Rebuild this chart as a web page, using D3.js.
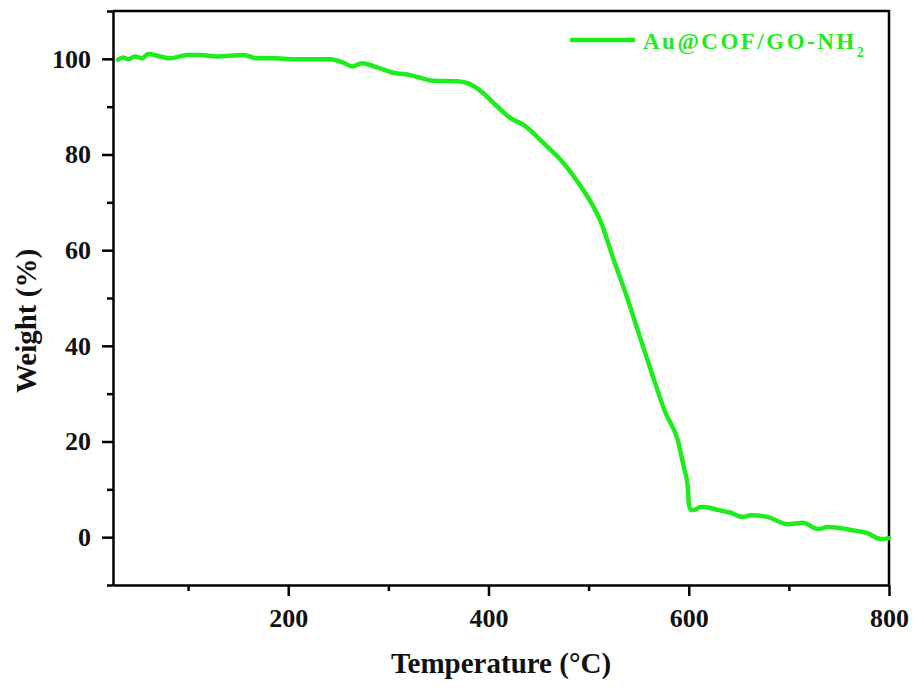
<!DOCTYPE html>
<html>
<head>
<meta charset="utf-8">
<script src="https://cdn.jsdelivr.net/npm/d3@7"></script>
<style>
  body { margin: 0; background: #fff; }
  svg text { font-family: "Liberation Serif", "Times New Roman", serif; font-weight: bold; }
</style>
</head>
<body>
<svg id="chart"></svg>
<script>
const width = 916;
const height = 689;
const margin = { top: 11, right: 27, bottom: 104, left: 113 };

// TGA curve
const temperature = [30, 35, 40, 47, 54, 60, 72, 82, 99, 112, 129, 155, 169, 189, 202, 222, 242, 255, 264, 274,
    289, 305, 322, 345, 369, 379, 392, 407, 422, 435, 455, 472, 489, 502, 512, 525, 537, 549, 562, 577,
    589, 595, 599, 600, 602, 605, 612, 615, 629, 642, 654, 662, 679, 699, 714, 729, 739, 762, 779, 792, 800];
const weight = [99.8, 100.3, 99.9, 100.5, 100.1, 101.0, 100.5, 100.1, 100.8, 100.8, 100.5, 100.8, 100.1, 100.1, 99.9, 99.9, 99.9, 99.2, 98.4, 99.1,
    98.2, 97.1, 96.6, 95.4, 95.3, 94.9, 93.3, 90.4, 87.6, 86.2, 82.4, 78.9, 74.3, 70.1, 66.0, 58.0, 51.0, 43.3, 35.0, 25.9,
    20.3, 14.7, 10.6, 7.1, 5.7, 5.7, 6.3, 6.3, 5.7, 5.1, 4.2, 4.6, 4.2, 2.7, 3.0, 1.7, 2.1, 1.5, 0.8, -0.4, -0.2];

const xMajor = [200, 400, 600, 800];
const xMinor = [100, 300, 500, 700];
const yMajor = [0, 20, 40, 60, 80, 100];
const yMinor = [-10, 10, 30, 50, 70, 90, 110];

const seriesName = "Au@COF/GO-NH";
const seriesSub = "2";
const green = "#1dec1d";

const svg = d3.select("#chart")
    .attr("width", width)
    .attr("height", height);

const x = d3.scaleLinear().domain([25, 800]).range([margin.left, width - margin.right]);
const y = d3.scaleLinear().domain([-10, 110]).range([height - margin.bottom, margin.top]);

// minor ticks first, then major axes on top
svg.append("g")
    .attr("transform", `translate(0,${height - margin.bottom})`)
    .call(d3.axisBottom(x).tickValues(xMinor).tickSize(6).tickFormat(""))
    .call(g => g.select(".domain").remove());
svg.append("g")
    .attr("transform", `translate(${margin.left},0)`)
    .call(d3.axisLeft(y).tickValues(yMinor).tickSize(6).tickFormat(""))
    .call(g => g.select(".domain").remove());

svg.append("g")
    .attr("transform", `translate(0,${height - margin.bottom})`)
    .call(d3.axisBottom(x).tickValues(xMajor).tickSize(11).tickPadding(13).tickSizeOuter(0));
svg.append("g")
    .attr("transform", `translate(${margin.left},0)`)
    .call(d3.axisLeft(y).tickValues(yMajor).tickSize(11).tickPadding(11).tickSizeOuter(0));

svg.selectAll(".tick line").attr("stroke", "#000").attr("stroke-width", 2.5);
svg.selectAll(".domain").attr("stroke", "#000").attr("stroke-width", 2.5);
svg.selectAll(".tick text").attr("fill", "#111").style("font-size", "26px");

// top and right border
svg.append("path")
    .attr("d", `M${margin.left},${margin.top}H${width - margin.right}V${height - margin.bottom}`)
    .attr("fill", "none")
    .attr("stroke", "#000")
    .attr("stroke-width", 2.5);

const line = d3.line()
    .x((d, i) => x(temperature[i]))
    .y(d => y(d))
    .curve(d3.curveMonotoneX);

svg.append("path")
    .datum(weight)
    .attr("d", line)
    .attr("fill", "none")
    .attr("stroke", green)
    .attr("stroke-width", 4.5)
    .attr("stroke-linejoin", "round")
    .attr("stroke-linecap", "round");

// axis titles
svg.append("text")
    .attr("x", (margin.left + width - margin.right) / 2)
    .attr("y", 673)
    .attr("text-anchor", "middle")
    .style("font-size", "29px")
    .attr("fill", "#111")
    .text("Temperature (°C)");

svg.append("text")
    .attr("transform", "translate(36,321) rotate(-90)")
    .attr("text-anchor", "middle")
    .style("font-size", "29px")
    .attr("fill", "#111")
    .text("Weight (%)");

// legend
svg.append("line")
    .attr("x1", 570).attr("x2", 635)
    .attr("y1", 40).attr("y2", 40)
    .attr("stroke", green)
    .attr("stroke-width", 4.5);

const legendText = svg.append("text")
    .attr("x", 643)
    .attr("y", 49)
    .attr("fill", green)
    .style("font-size", "23px")
    .style("letter-spacing", "2.5px")
    .text(seriesName);
legendText.append("tspan")
    .attr("dy", 8)
    .style("font-size", "14px")
    .style("letter-spacing", "0px")
    .text(seriesSub);
</script>
</body>
</html>
